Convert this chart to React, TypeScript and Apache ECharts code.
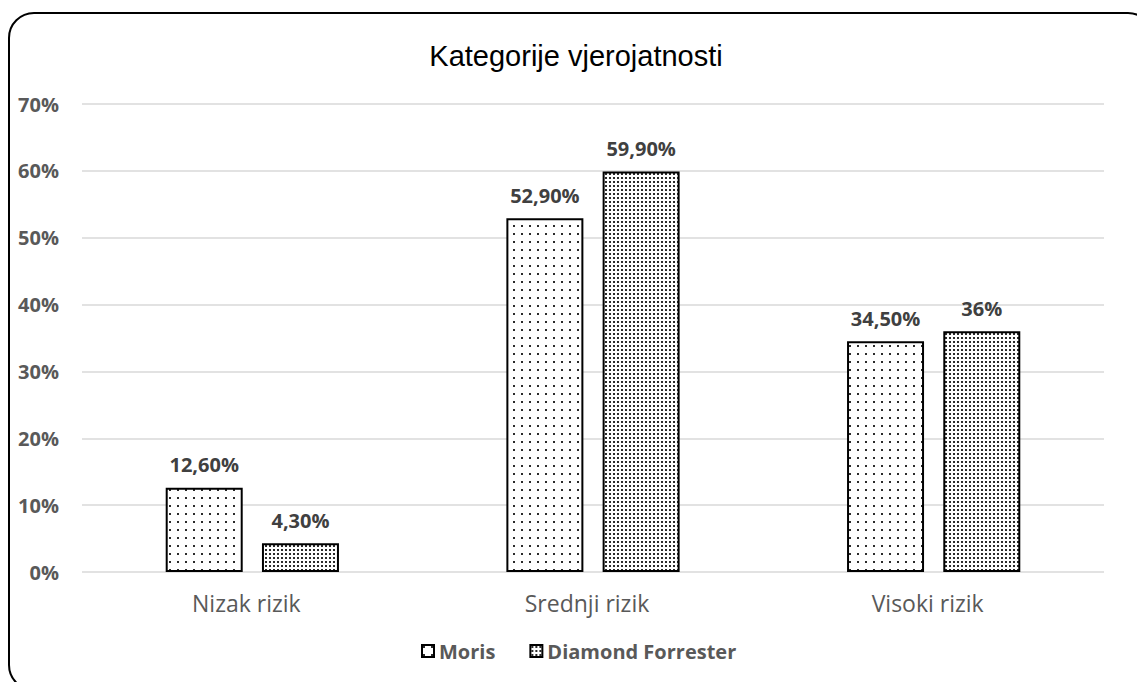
import React, { useEffect, useRef } from "react";
import * as echarts from "echarts";

const categories = ["Nizak rizik", "Srednji rizik", "Visoki rizik"];
const seriesNames = ["Moris", "Diamond Forrester"];
const morisValues = [12.6, 52.9, 34.5];
const diamondValues = [4.3, 59.9, 36];
const morisLabels = ["12,60%", "52,90%", "34,50%"];
const diamondLabels = ["4,30%", "59,90%", "36%"];
const titleText = "Kategorije vjerojatnosti";

function makePattern(step: number, dot: number, color: string): string {
  const c = document.createElement("canvas");
  c.width = step;
  c.height = step;
  const ctx = c.getContext("2d")!;
  ctx.fillStyle = "#ffffff";
  ctx.fillRect(0, 0, step, step);
  ctx.fillStyle = color;
  ctx.fillRect(1, 1, dot, dot);
  return c.toDataURL();
}

export default function App() {
  const ref = useRef<HTMLDivElement>(null);
  useEffect(() => {
    if (!ref.current) return;
    const chart = echarts.init(ref.current, undefined, { renderer: "svg" });
    const sparse = { image: makePattern(8, 2, "#2b2b2b"), repeat: "repeat" };
    const dense = { image: makePattern(4, 2, "#2b2b2b"), repeat: "repeat" };
    const font = "Open Sans";
    const labelStyle = (labels: string[]) => ({
      show: true,
      position: "top",
      distance: 13,
      fontFamily: font,
      fontWeight: "bold",
      fontSize: 20,
      color: "#404040",
      formatter: (p: any) => labels[p.dataIndex],
    });
    chart.setOption({
      animation: false,
      backgroundColor: "#ffffff",
      title: {
        text: titleText,
        left: 571,
        textAlign: "center",
        top: 36,
        textStyle: { fontFamily: "Liberation Sans", fontSize: 29, fontWeight: "normal", color: "#000" },
      },
      graphic: [
        {
          type: "rect",
          shape: { x: 9, y: 13, width: 1144, height: 677, r: 25 },
          style: { fill: "none", stroke: "#000", lineWidth: 2 },
          silent: true,
        },
      ],
      legend: {
        bottom: 16,
        left: 416,
        itemWidth: 12,
        itemHeight: 12,
        itemGap: 34,
        icon: "rect",
        textStyle: { fontFamily: font, fontWeight: "bold", fontSize: 20, color: "#595959" },
        data: seriesNames,
      },
      grid: { left: 82, right: 33, top: 104, bottom: 110 },
      xAxis: {
        type: "category",
        data: categories,
        axisTick: { show: false },
        axisLine: { show: false },
        axisLabel: { fontFamily: font, fontSize: 23, color: "#595959", margin: 19, padding: [0, 12, 0, 0] },
      },
      yAxis: {
        type: "value",
        min: 0,
        max: 70,
        interval: 10,
        axisLine: { show: false },
        axisTick: { show: false },
        axisLabel: {
          formatter: "{value}%",
          fontFamily: font,
          fontWeight: "bold",
          fontSize: 20,
          color: "#595959",
          margin: 23,
        },
        splitLine: { lineStyle: { color: "#d9d9d9", width: 1.5 } },
      },
      series: [
        {
          name: seriesNames[0],
          type: "bar",
          data: morisValues,
          barWidth: 77,
          barGap: "25%",
          itemStyle: { color: sparse, borderColor: "#000", borderWidth: 2 },
          label: labelStyle(morisLabels),
        },
        {
          name: seriesNames[1],
          type: "bar",
          data: diamondValues,
          barWidth: 77,
          itemStyle: { color: dense, borderColor: "#000", borderWidth: 2 },
          label: labelStyle(diamondLabels),
        },
      ],
    });
    return () => chart.dispose();
  }, []);
  return (
    <div
      ref={ref}
      style={{ position: "absolute", left: 0, top: 0, width: 1137, height: 682 }}
    />
  );
}
